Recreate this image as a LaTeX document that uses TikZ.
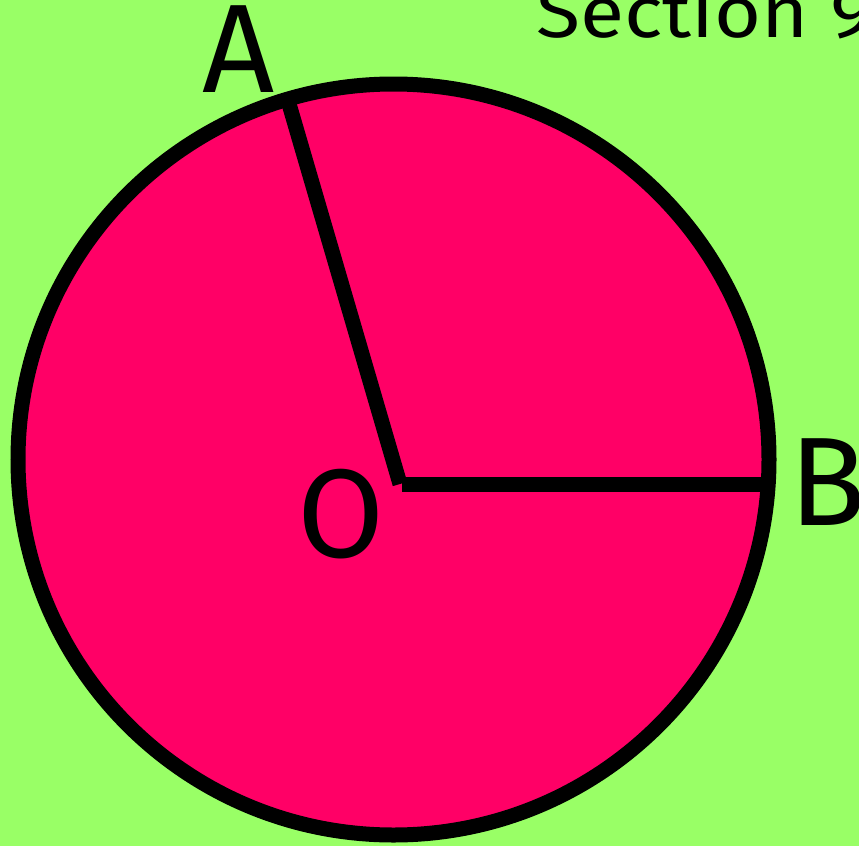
\documentclass[tikz,border=0pt]{standalone}
\usepackage{fontspec}
\setmainfont{Fira Sans}
\newfontfamily\titlefont[FakeStretch=1.12]{Fira Sans}
\definecolor{bggreen}{HTML}{99FF66}
\definecolor{discpink}{HTML}{FF0066}
\begin{document}
\begin{tikzpicture}[x=1pt,y=-1pt,
  radius line/.style={line width=15pt,line cap=butt,draw=black},
  biglabel/.style={font=\fontsize{126}{126}\selectfont,inner sep=0pt,anchor=base}]
\useasboundingbox (0,0) rectangle (859,846);
\fill[bggreen] (0,0) rectangle (859,846);
\clip (0,0) rectangle (859,846);
\coordinate (C) at (393.5,459.5);
\fill[discpink,draw=black,line width=15pt] (C) circle[radius=375.5];
\coordinate (O) at (402,484);
\coordinate (O2) at (400,484);
\coordinate (A) at (287,97);
\coordinate (B) at (767,484);
\draw[radius line] (O2) -- (A);
\draw[radius line] (O) -- (B);
\node[biglabel] (labA) at (239,92) {A};
\node[biglabel] (labB) at (828,525) {B};
\node[biglabel] (labO) at (341,557) {O};
\node[font=\titlefont\fontsize{72}{72}\selectfont,inner sep=0pt,anchor=base west] (title) at (536,37) {Section 9};
\end{tikzpicture}
\end{document}
